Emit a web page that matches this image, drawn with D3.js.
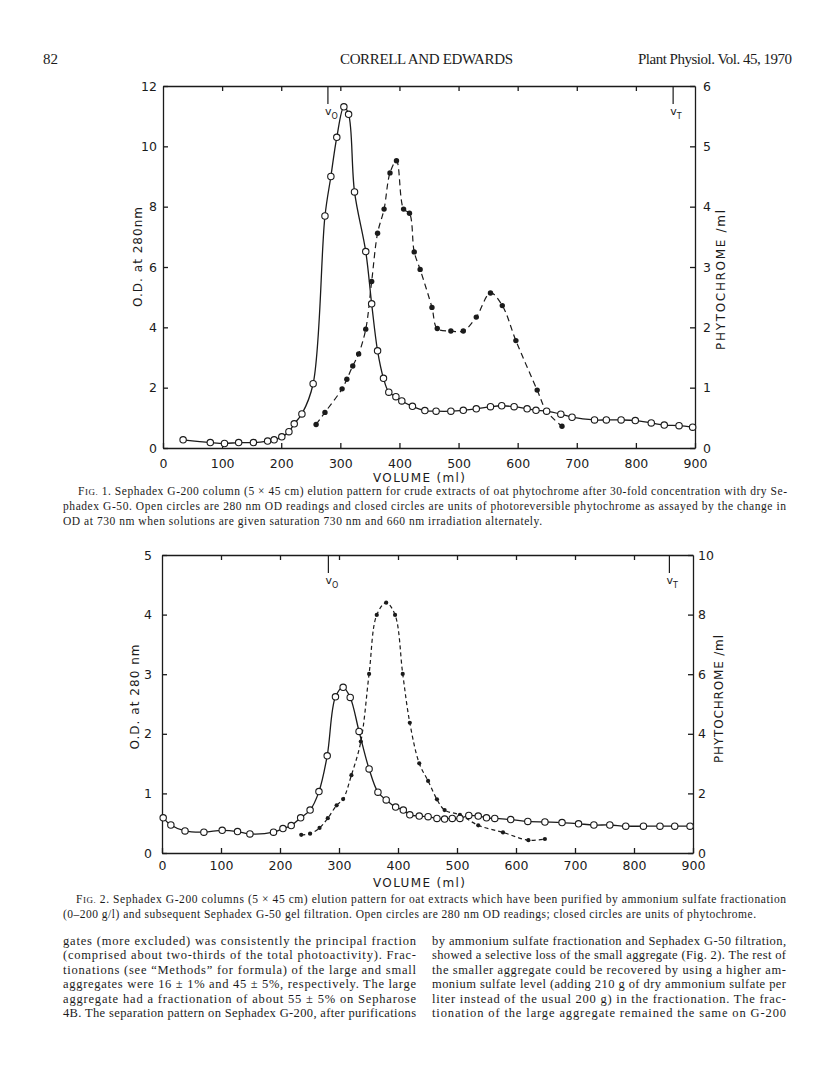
<!DOCTYPE html>
<html lang="en">
<head>
<meta charset="UTF-8">
<title>Correll and Edwards, Plant Physiol. 45, p. 82</title>
<script src="https://d3js.org/d3.v7.min.js"></script>
<style>
  body { margin: 0; background: #fff; }
  svg { display: block; }
</style>
</head>
<body>
<div id="page"></div>
<script>
"use strict";

// ---- Fig. 1 values ----
// open circles: O.D. at 280 nm
const fig1OpenVol = [34, 80, 104, 128, 153, 177, 188, 201, 213, 222, 235, 254, 274, 284, 294, 306, 314, 324, 343,
  353, 363, 373, 382, 394, 404, 422, 443, 462, 487, 508, 530, 554, 573, 594, 616, 631, 649, 673, 692, 730, 750,
  775, 799, 826, 848, 873, 896];
const fig1OpenOD = [0.27, 0.18, 0.15, 0.18, 0.18, 0.23, 0.27, 0.37, 0.54, 0.80, 1.13, 2.13, 7.69, 9.00, 10.30, 11.31,
  11.06, 8.49, 6.51, 4.78, 3.22, 2.31, 1.85, 1.70, 1.56, 1.38, 1.24, 1.22, 1.22, 1.25, 1.30, 1.37, 1.40, 1.37, 1.30,
  1.25, 1.22, 1.12, 1.02, 0.93, 0.93, 0.93, 0.91, 0.83, 0.76, 0.74, 0.69];
// closed circles: phytochrome units / ml
const fig1ClosedVol = [259, 274, 303, 311, 321, 331, 343, 353, 363, 374, 384, 395, 407, 417, 425, 435, 455, 464, 487,
  508, 530, 554, 574, 597, 633, 649, 675];
const fig1ClosedUnits = [0.39, 0.59, 0.98, 1.14, 1.36, 1.56, 1.97, 2.76, 3.56, 3.96, 4.56, 4.76, 3.96, 3.89, 3.25, 2.96,
  2.33, 1.98, 1.94, 1.94, 2.17, 2.57, 2.36, 1.78, 0.96, 0.61, 0.36];

// ---- Fig. 2 values ----
const fig2OpenVol = [2, 15, 39, 71, 102, 128, 149, 189, 205, 219, 235, 251, 266, 280, 294, 307, 319, 334, 351, 366,
  380, 396, 409, 420, 436, 451, 466, 479, 492, 505, 520, 536, 550, 564, 591, 620, 649, 678, 706, 732, 759, 786,
  816, 844, 869, 895];
const fig2OpenOD = [0.59, 0.47, 0.37, 0.35, 0.38, 0.36, 0.32, 0.35, 0.41, 0.46, 0.59, 0.72, 1.03, 1.63, 2.62, 2.78,
  2.61, 2.04, 1.41, 1.02, 0.89, 0.77, 0.72, 0.64, 0.62, 0.61, 0.58, 0.57, 0.58, 0.58, 0.63, 0.62, 0.59, 0.58, 0.56,
  0.53, 0.52, 0.51, 0.49, 0.47, 0.47, 0.45, 0.45, 0.45, 0.45, 0.45];
const fig2ClosedVol = [236, 251, 267, 281, 296, 307, 321, 337, 351, 364, 380, 395, 408, 420, 436, 451, 466, 479, 505,
  536, 578, 621, 649];
const fig2ClosedUnits = [0.61, 0.65, 0.84, 1.17, 1.60, 1.81, 2.61, 3.74, 6.01, 7.99, 8.40, 7.99, 6.01, 4.37, 3.01,
  2.42, 1.80, 1.44, 1.28, 0.93, 0.69, 0.43, 0.47];

// ---- axes ----
const volTicks = [0, 100, 200, 300, 400, 500, 600, 700, 800, 900];
const fig1LeftTicks = [0, 2, 4, 6, 8, 10, 12];
const fig1RightTicks = [0, 1, 2, 3, 4, 5, 6];
const fig2LeftTicks = [0, 1, 2, 3, 4, 5];
const fig2RightTicks = [0, 2, 4, 6, 8, 10];
const markerSubs = ['O', 'T'];
const fig1MarkerVol = [279, 863];
const fig2MarkerVol = [282, 860];

// ---- page text ----
const header = ['82', 'CORRELL AND EDWARDS', 'Plant Physiol. Vol. 45, 1970'];
const fig1Caption = [
  'FIG. 1. Sephadex G-200 column (5 \u00d7 45 cm) elution pattern for crude extracts of oat phytochrome after 30-fold concentration with dry Se-',
  'phadex G-50. Open circles are 280 nm OD readings and closed circles are units of photoreversible phytochrome as assayed by the change in',
  'OD at 730 nm when solutions are given saturation 730 nm and 660 nm irradiation alternately.'
];
const fig2Caption = [
  'FIG. 2. Sephadex G-200 columns (5 \u00d7 45 cm) elution pattern for oat extracts which have been purified by ammonium sulfate fractionation',
  '(0\u2013200 g/l) and subsequent Sephadex G-50 gel filtration. Open circles are 280 nm OD readings; closed circles are units of phytochrome.'
];
const leftColumn = [
  'gates (more excluded) was consistently the principal fraction',
  '(comprised about two-thirds of the total photoactivity). Frac-',
  'tionations (see \u201cMethods\u201d for formula) of the large and small',
  'aggregates were 16 \u00b1 1% and 45 \u00b1 5%, respectively. The large',
  'aggregate had a fractionation of about 55 \u00b1 5% on Sepharose',
  '4B. The separation pattern on Sephadex G-200, after purifications'
];
const rightColumn = [
  'by ammonium sulfate fractionation and Sephadex G-50 filtration,',
  'showed a selective loss of the small aggregate (Fig. 2). The rest of',
  'the smaller aggregate could be recovered by using a higher am-',
  'monium sulfate level (adding 210 g of dry ammonium sulfate per',
  'liter instead of the usual 200 g) in the fractionation. The frac-',
  'tionation of the large aggregate remained the same on G-200'
];

const ink = '#1b1b1b';
const serif = 'Liberation Serif, Times New Roman, serif';
const sans = 'DejaVu Sans, Verdana, sans-serif';

function translate(x, y) {
  return 'translate(' + x + ', ' + y + ')';
}

function zip(a, b) {
  return a.map((v, i) => [v, b[i]]);
}

function styleAxis(g) {
  g.attr('font-family', null).attr('font-size', null);
  g.selectAll('path, line').attr('stroke', ink).attr('stroke-width', 1.3);
  g.selectAll('text').attr('fill', ink).attr('font-family', sans).attr('font-size', 12.5);
}

function drawFigure(svg, f) {
  let x = d3.scaleLinear().domain([0, 900]).range([f.left, f.right]);
  let yL = d3.scaleLinear().domain([0, f.leftMax]).range([f.bottom, f.top]);
  let yR = d3.scaleLinear().domain([0, f.rightMax]).range([f.bottom, f.top]);
  let fmt = d3.format('d');

  let g = svg.append('g');

  g.append('g')
    .attr('transform', translate(0, f.bottom))
    .call(d3.axisBottom(x).tickValues(volTicks).tickFormat(fmt)
      .tickSize(-5).tickSizeOuter(0).tickPadding(f.xPad))
    .call(styleAxis);
  g.append('g')
    .attr('transform', translate(0, f.top))
    .call(d3.axisTop(x).tickValues(volTicks.slice(1, -1)).tickSize(-5).tickSizeOuter(0).tickFormat(''))
    .call(styleAxis);
  g.append('g')
    .attr('transform', translate(f.left, 0))
    .call(d3.axisLeft(yL).tickValues(f.leftTicks).tickFormat(fmt)
      .tickSize(-5).tickSizeOuter(0).tickPadding(f.yPad))
    .call(styleAxis);
  g.append('g')
    .attr('transform', translate(f.right, 0))
    .call(d3.axisRight(yR).tickValues(f.rightTicks).tickFormat(fmt)
      .tickSize(-5).tickSizeOuter(0).tickPadding(f.rPad))
    .call(styleAxis);

  // void volume / total volume markers
  f.markerVol.forEach((v, i) => {
    g.append('line')
      .attr('x1', x(v)).attr('x2', x(v))
      .attr('y1', f.top).attr('y2', f.top + 18)
      .attr('stroke', ink).attr('stroke-width', 1.2);
    let t = g.append('text')
      .attr('x', x(v) - 3).attr('y', f.top + 29)
      .attr('font-family', sans).attr('font-size', 11).attr('fill', ink)
      .text('v');
    t.append('tspan').attr('dy', 4).attr('font-size', 8).text(markerSubs[i]);
  });

  let line = (ys) => d3.line()
    .x(d => x(d[0]))
    .y(d => ys(d[1]))
    .curve(d3.curveCatmullRom.alpha(0.5));

  let closed = zip(f.cVol, f.cUnits);
  let open = zip(f.oVol, f.oOD);

  g.append('path')
    .datum(closed)
    .attr('d', line(yR))
    .attr('fill', 'none').attr('stroke', ink).attr('stroke-width', 1.2)
    .attr('stroke-dasharray', f.dash);
  g.append('path')
    .datum(open)
    .attr('d', line(yL))
    .attr('fill', 'none').attr('stroke', ink).attr('stroke-width', 1.3);

  g.selectAll('circle.closed')
    .data(closed)
    .enter()
    .append('circle')
    .attr('class', 'closed')
    .attr('cx', d => x(d[0]))
    .attr('cy', d => yR(d[1]))
    .attr('r', f.dotR)
    .attr('fill', ink);
  g.selectAll('circle.open')
    .data(open)
    .enter()
    .append('circle')
    .attr('class', 'open')
    .attr('cx', d => x(d[0]))
    .attr('cy', d => yL(d[1]))
    .attr('r', 3.2)
    .attr('fill', '#fff')
    .attr('stroke', ink).attr('stroke-width', 1.1);

  // axis titles
  g.append('text')
    .attr('transform', translate(f.yLabel[0], f.yLabel[1]) + ' rotate(-90)')
    .attr('text-anchor', 'middle').attr('dominant-baseline', 'central')
    .attr('font-family', sans).attr('font-size', 12).attr('fill', ink)
    .attr('textLength', f.yLabel[2]).attr('lengthAdjust', 'spacing')
    .text(f.yTitle);
  g.append('text')
    .attr('transform', translate(f.rLabel[0], f.rLabel[1]) + ' rotate(-90)')
    .attr('text-anchor', 'middle').attr('dominant-baseline', 'central')
    .attr('font-family', sans).attr('font-size', 12).attr('fill', ink)
    .attr('textLength', f.rLabel[2]).attr('lengthAdjust', 'spacing')
    .text('PHYTOCHROME /ml');
  g.append('text')
    .attr('x', f.xLabel[0]).attr('y', f.xLabel[1])
    .attr('text-anchor', 'middle')
    .attr('font-family', sans).attr('font-size', 12).attr('fill', ink)
    .attr('textLength', 92).attr('lengthAdjust', 'spacing')
    .text('VOLUME (ml)');
}

function textLine(svg, str, x, y, size, width) {
  let t = svg.append('text')
    .attr('x', x).attr('y', y)
    .attr('font-family', serif).attr('font-size', size).attr('fill', ink);
  if (str.startsWith('FIG.')) {
    t.append('tspan').text('F');
    t.append('tspan').attr('font-size', size * 0.78).text('IG.');
    t.append('tspan').text(str.slice(4));
  } else {
    t.text(str);
  }
  if (width) t.attr('textLength', width).attr('lengthAdjust', 'spacing');
  return t;
}

let svg = d3.select('#page')
  .append('svg')
  .attr('width', 816)
  .attr('height', 1076);

svg.append('rect').attr('width', 816).attr('height', 1076).attr('fill', '#fff');

// running head
textLine(svg, header[0], 43, 64, 15, 15);
textLine(svg, header[1], 340, 64, 15, 173);
textLine(svg, header[2], 638, 64, 15, 154);

drawFigure(svg, {
  oVol: fig1OpenVol, oOD: fig1OpenOD, cVol: fig1ClosedVol, cUnits: fig1ClosedUnits,
  leftMax: 12, rightMax: 6, leftTicks: fig1LeftTicks, rightTicks: fig1RightTicks,
  markerVol: fig1MarkerVol,
  left: 163, right: 695, top: 86, bottom: 448,
  xPad: 11, yPad: 6, rPad: 8, dash: '6,4', dotR: 2.7,
  yTitle: 'O.D. at 280nm', yLabel: [138, 257, 100], rLabel: [721, 280, 140], xLabel: [419, 482]
});

drawFigure(svg, {
  oVol: fig2OpenVol, oOD: fig2OpenOD, cVol: fig2ClosedVol, cUnits: fig2ClosedUnits,
  leftMax: 5, rightMax: 10, leftTicks: fig2LeftTicks, rightTicks: fig2RightTicks,
  markerVol: fig2MarkerVol,
  left: 162, right: 693, top: 555, bottom: 853,
  xPad: 8.5, yPad: 10, rPad: 5, dash: '4,3', dotR: 2.1,
  yTitle: 'O.D. at 280 nm', yLabel: [135, 697, 105], rLabel: [719, 699, 128], xLabel: [419, 887]
});

// captions
textLine(svg, fig1Caption[0], 78, 495, 11.5, 709);
textLine(svg, fig1Caption[1], 63, 510, 11.5, 723);
textLine(svg, fig1Caption[2], 63, 525, 11.5, 479);

textLine(svg, fig2Caption[0], 76, 903, 11.5, 710);
textLine(svg, fig2Caption[1], 63, 918, 11.5, 693);

// body text, two justified columns
leftColumn.forEach((s, i) => textLine(svg, s, 63, 945 + i * 14.4, 12.5, 353));
rightColumn.forEach((s, i) => textLine(svg, s, 432, 945 + i * 14.4, 12.5, 354));
</script>
</body>
</html>
